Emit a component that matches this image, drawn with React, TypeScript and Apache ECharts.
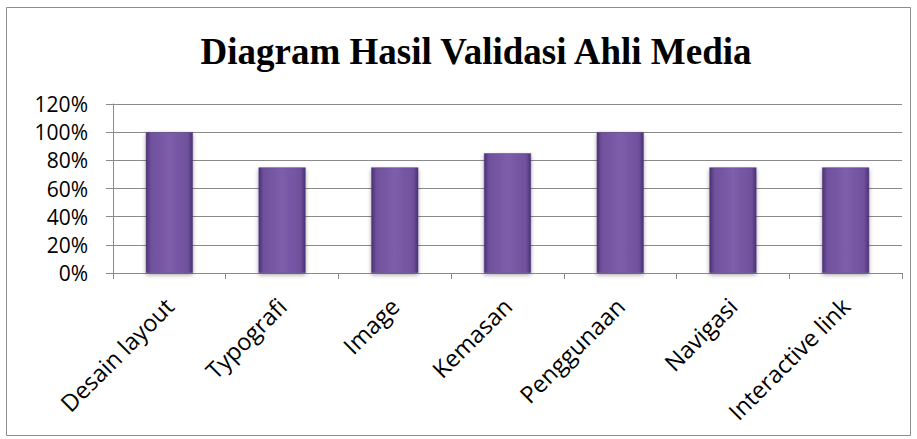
import React, { useEffect, useRef } from "react";
import * as echarts from "echarts";

const categories = ["Desain layout", "Typografi", "Image", "Kemasan", "Penggunaan", "Navigasi", "Interactive link"];
const values = [100, 75, 75, 85, 100, 75, 75];
const titleText = "Diagram Hasil Validasi Ahli Media";

export default function App() {
  const ref = useRef<HTMLDivElement>(null);
  useEffect(() => {
    const chart = echarts.init(ref.current!, null, { renderer: "svg" });
    chart.setOption({
      animation: false,
      backgroundColor: "#ffffff",
      title: {
        text: titleText,
        left: 471,
        textAlign: "center",
        top: 28,
        textStyle: { fontFamily: "Liberation Serif", fontWeight: "bold", fontSize: 37, color: "#000" },
      },
      graphic: [
        {
          type: "rect",
          shape: { x: 6.5, y: 7.5, width: 904, height: 428 },
          style: { fill: "none", stroke: "#8c8c8c", lineWidth: 1 },
          silent: true,
        },
      ],
      grid: { left: 113, right: 15, top: 104, bottom: 166 },
      xAxis: {
        type: "category",
        data: categories,
        axisLine: { lineStyle: { color: "#8a8a8a" } },
        axisTick: { show: true, length: 6, lineStyle: { color: "#8a8a8a" } },
        axisLabel: {
          rotate: 45,
          interval: 0,
          margin: 29,
          fontFamily: "Open Sans",
          fontSize: 23.5,
          color: "#000",
        },
      },
      yAxis: {
        type: "value",
        min: 0,
        max: 120,
        interval: 20,
        axisLine: { show: true, lineStyle: { color: "#8a8a8a" } },
        axisTick: { show: true, length: 7, lineStyle: { color: "#8a8a8a" } },
        splitLine: { lineStyle: { color: "#8a8a8a" } },
        axisLabel: {
          formatter: "{value}%",
          fontFamily: "Open Sans",
          fontSize: 21,
          color: "#000",
          margin: 25,
        },
      },
      series: [
        {
          type: "bar",
          data: values,
          barWidth: 47,
          itemStyle: {
            color: new echarts.graphic.LinearGradient(0, 0, 1, 0, [
              { offset: 0, color: "#4a3172" },
              { offset: 0.1, color: "#6f509c" },
              { offset: 0.5, color: "#7d5eab" },
              { offset: 0.9, color: "#6f509c" },
              { offset: 1, color: "#4a3172" },
            ]),
            borderColor: "#553a80",
            borderWidth: 0.5,
            shadowColor: "rgba(0,0,0,0.35)",
            shadowBlur: 4,
            shadowOffsetY: 2,
          },
        },
      ],
    });
    return () => chart.dispose();
  }, []);
  return (
    <div
      ref={ref}
      style={{ position: "absolute", left: 0, top: 0, width: 917, height: 439 }}
    />
  );
}
